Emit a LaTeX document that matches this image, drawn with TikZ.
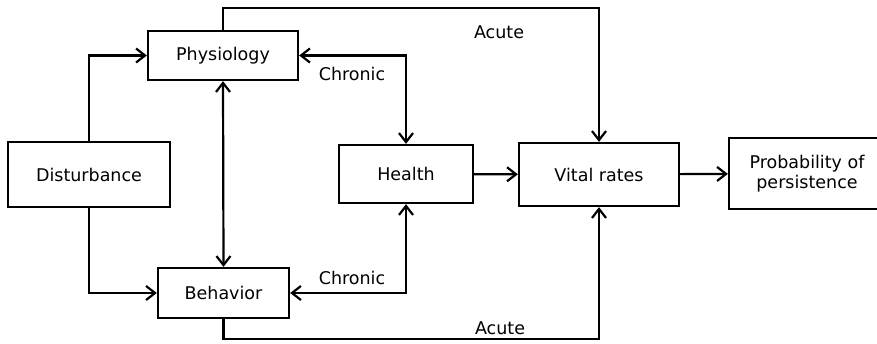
\documentclass[tikz,border=0pt]{standalone}
\usepackage{fontspec}
\setmainfont{DejaVu Sans}
\usetikzlibrary{arrows.meta}
\tikzset{
  box/.style={draw, line width=2.3pt, fill=white, align=center, inner sep=2pt},
  lbl/.style={inner sep=0pt},
}
\begin{document}
\begin{tikzpicture}[x=1pt, y=-1pt, line width=2.2pt, line join=miter,
    >={Straight Barb[length=9pt,width=14pt,line width=2.2pt]},
    font=\fontsize{17.5}{20}\selectfont]
\useasboundingbox (0,0) rectangle (877,343);
\node[box, minimum width=150pt, minimum height=49pt] (phys) at (223,55.5) {Physiology};
\node[box, minimum width=162pt, minimum height=65pt] (dist) at (89,174.5) {Disturbance};
\node[box, minimum width=131pt, minimum height=50pt] (behav) at (223.5,293) {Behavior};
\node[box, minimum width=134pt, minimum height=58pt] (health) at (406,174) {Health};
\node[box, minimum width=160pt, minimum height=63pt] (vital) at (599,174.5) {Vital rates};
\node[box, minimum width=156pt, minimum height=71pt] (prob) at (807,173.5) {Probability of\\persistence};
\coordinate (topR) at (599,8);
\coordinate (botR) at (599,339);
\draw[->] (dist.north) |- (phys.west);
\draw[->] (dist.south) |- (behav.west);
\draw[<->] (phys.south) -- (behav.north);
\draw[<->] (phys.east) -| (health.north);
\draw[<->] (behav.east) -| (health.south);
\draw[->] (health) -- (vital);
\draw[->] (vital) -- (prob);
\draw[->] (phys.north) |- (topR) -- (vital.north);
\draw[->] (behav.south) |- (botR) -- (vital.south);
\node[lbl] (chrT) at (352,74) {Chronic};
\node[lbl] (chrB) at (352,278) {Chronic};
\node[lbl] (acuT) at (499,32) {Acute};
\node[lbl] (acuB) at (500,328) {Acute};
\end{tikzpicture}
\end{document}
